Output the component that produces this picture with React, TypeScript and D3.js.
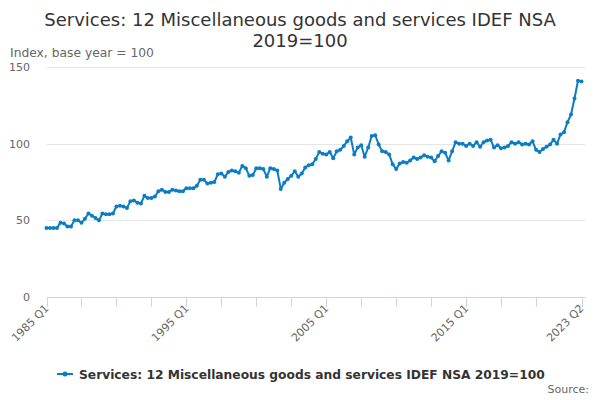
import React, { useEffect, useRef } from "react";
import * as d3 from "d3";

const startYear = 1985;
const values: number[] = [
  // 1985
  45, 45, 45, 45,
  // 1986
  48.5, 48, 46, 46,
  // 1987
  50, 50, 48.5, 51,
  // 1988
  54.5, 53, 51.5, 50,
  // 1989
  54.5, 54, 54, 54.5,
  // 1990
  59, 59.5, 59, 58,
  // 1991
  62.5, 63, 61.5, 61,
  // 1992
  66, 64.5, 64.5, 65.5,
  // 1993
  69, 70, 68.5, 68.5,
  // 1994
  70, 69.5, 69, 69,
  // 1995
  71, 71, 71, 72.5,
  // 1996
  76.5, 76.5, 74, 74.5,
  // 1997
  75, 80, 80.5, 78.5,
  // 1998
  81.5, 82.5, 82, 81,
  // 1999
  85.5, 84, 79, 79.5,
  // 2000
  84, 84, 83.5, 78.5,
  // 2001
  84, 83.5, 82.5, 70.5,
  // 2002
  74.5, 77, 79, 82,
  // 2003
  78.5, 80.5, 84.5, 86,
  // 2004
  86.5, 90, 94.5, 93.5,
  // 2005
  93, 94.5, 90.5, 95,
  // 2006
  96, 98.5, 101.5, 104,
  // 2007
  93, 97.5, 99, 91.5,
  // 2008
  97.5, 105, 105.5, 99.5,
  // 2009
  95, 94.5, 93, 86.5,
  // 2010
  83.5, 87, 88, 87.5,
  // 2011
  89, 91, 90, 91,
  // 2012
  92.5, 91.5, 91, 88.5,
  // 2013
  92, 95, 94, 89,
  // 2014
  95, 101, 100, 100,
  // 2015
  98.5, 100, 98.5, 101,
  // 2016
  98, 101, 102, 102.5,
  // 2017
  97.5, 99, 97, 97.5,
  // 2018
  98.5, 101, 100, 101,
  // 2019
  99.5, 100, 99.5, 101.5,
  // 2020
  96, 94.5, 96.5, 98,
  // 2021
  99.5, 102.5, 100, 106,
  // 2022
  107.5, 114, 119, 129.5,
  // 2023
  141, 140.5,
];

const labels: string[] = values.map(
  (_, i) => `${startYear + Math.floor(i / 4)} Q${(i % 4) + 1}`
);
const yTicks: number[] = [0, 50, 100, 150];
const labelledTicks: number[] = [0, 40, 80, 120, 153];
const minorTicks: number[] = [0, 10, 20, 30, 40, 50, 60, 70, 80, 90, 100, 110, 120, 130, 140, 153];

const titleLines = ["Services: 12 Miscellaneous goods and services IDEF NSA", "2019=100"];
const seriesName = "Services: 12 Miscellaneous goods and services IDEF NSA 2019=100";

const W = 600;
const H = 400;
const FONT = "'DejaVu Sans', sans-serif";
const LINE = "#0b7dc2";

export default function App() {
  const ref = useRef<SVGSVGElement>(null);

  useEffect(() => {
    document.body.style.margin = "0";
    const svg = d3.select(ref.current);
    svg.selectAll("*").remove();

    const left = 46.5;
    const right = 581.5;
    const top = 67;
    const bottom = 297;

    const x = d3.scaleLinear().domain([0, values.length - 1]).range([left, right]);
    const y = d3.scaleLinear().domain([0, 150]).range([bottom, top]);

    svg.append("rect").attr("width", W).attr("height", H).attr("fill", "#fff");

    // title
    svg
      .append("text")
      .attr("text-anchor", "middle")
      .attr("font-family", FONT)
      .attr("font-size", 18)
      .attr("fill", "#333")
      .selectAll("tspan")
      .data(titleLines)
      .join("tspan")
      .attr("x", W / 2)
      .attr("y", (_, i) => 26 + i * 21)
      .text((d) => d);

    svg
      .append("text")
      .attr("x", 10)
      .attr("y", 57)
      .attr("font-family", FONT)
      .attr("font-size", 12.3)
      .attr("fill", "#666")
      .text("Index, base year = 100");

    // grid
    const g = svg.append("g");
    g.selectAll("line.grid")
      .data(yTicks.filter((t) => t !== 0))
      .join("line")
      .attr("x1", left)
      .attr("x2", 585)
      .attr("y1", (d) => Math.round(y(d)) + 0.5)
      .attr("y2", (d) => Math.round(y(d)) + 0.5)
      .attr("stroke", "#e6e6e6")
      .attr("stroke-width", 1);

    g.selectAll("text.ylab")
      .data(yTicks)
      .join("text")
      .attr("x", 30)
      .attr("y", (d) => y(d) + 4)
      .attr("text-anchor", "end")
      .attr("font-family", FONT)
      .attr("font-size", 11)
      .attr("fill", "#666")
      .text((d) => d3.format("d")(d));

    // x axis
    g.append("line")
      .attr("x1", left)
      .attr("x2", 586)
      .attr("y1", bottom + 0.5)
      .attr("y2", bottom + 0.5)
      .attr("stroke", "#ccd6eb");
    g.selectAll("line.tick")
      .data(minorTicks)
      .join("line")
      .attr("x1", (d) => Math.round(x(d)) + 0.5)
      .attr("x2", (d) => Math.round(x(d)) + 0.5)
      .attr("y1", bottom)
      .attr("y2", bottom + 10)
      .attr("stroke", "#ccd6eb");
    g.selectAll("text.xlab")
      .data(labelledTicks)
      .join("text")
      .attr("transform", (d) => `translate(${x(d) + 3},${bottom + 12}) rotate(-45)`)
      .attr("text-anchor", "end")
      .attr("font-family", FONT)
      .attr("font-size", 11)
      .attr("fill", "#666")
      .text((d) => labels[d]);

    // line
    const line = d3
      .line<number>()
      .x((_, i) => x(i))
      .y((d) => y(d));
    g.append("path")
      .datum(values)
      .attr("d", line)
      .attr("fill", "none")
      .attr("stroke", LINE)
      .attr("stroke-width", 2)
      .attr("stroke-linejoin", "round");
    g.selectAll("circle.pt")
      .data(values)
      .join("circle")
      .attr("cx", (_, i) => x(i))
      .attr("cy", (d) => y(d))
      .attr("r", 2)
      .attr("fill", LINE);

    // legend
    const lg = svg.append("g");
    lg.append("line")
      .attr("x1", 57)
      .attr("x2", 73)
      .attr("y1", 374)
      .attr("y2", 374)
      .attr("stroke", LINE)
      .attr("stroke-width", 2);
    lg.append("circle").attr("cx", 65).attr("cy", 374).attr("r", 2.5).attr("fill", LINE);
    lg.append("text")
      .attr("x", 79)
      .attr("y", 379)
      .attr("font-family", FONT)
      .attr("font-size", 12.25)
      .attr("font-weight", "bold")
      .attr("fill", "#333")
      .text(seriesName);

    svg
      .append("text")
      .attr("x", 589)
      .attr("y", 393)
      .attr("text-anchor", "end")
      .attr("font-family", FONT)
      .attr("font-size", 11)
      .attr("fill", "#666")
      .text("Source:");
  }, []);

  return (
    <svg
      ref={ref}
      width={W}
      height={H}
      style={{ position: "absolute", left: 0, top: 0, display: "block" }}
    />
  );
}
